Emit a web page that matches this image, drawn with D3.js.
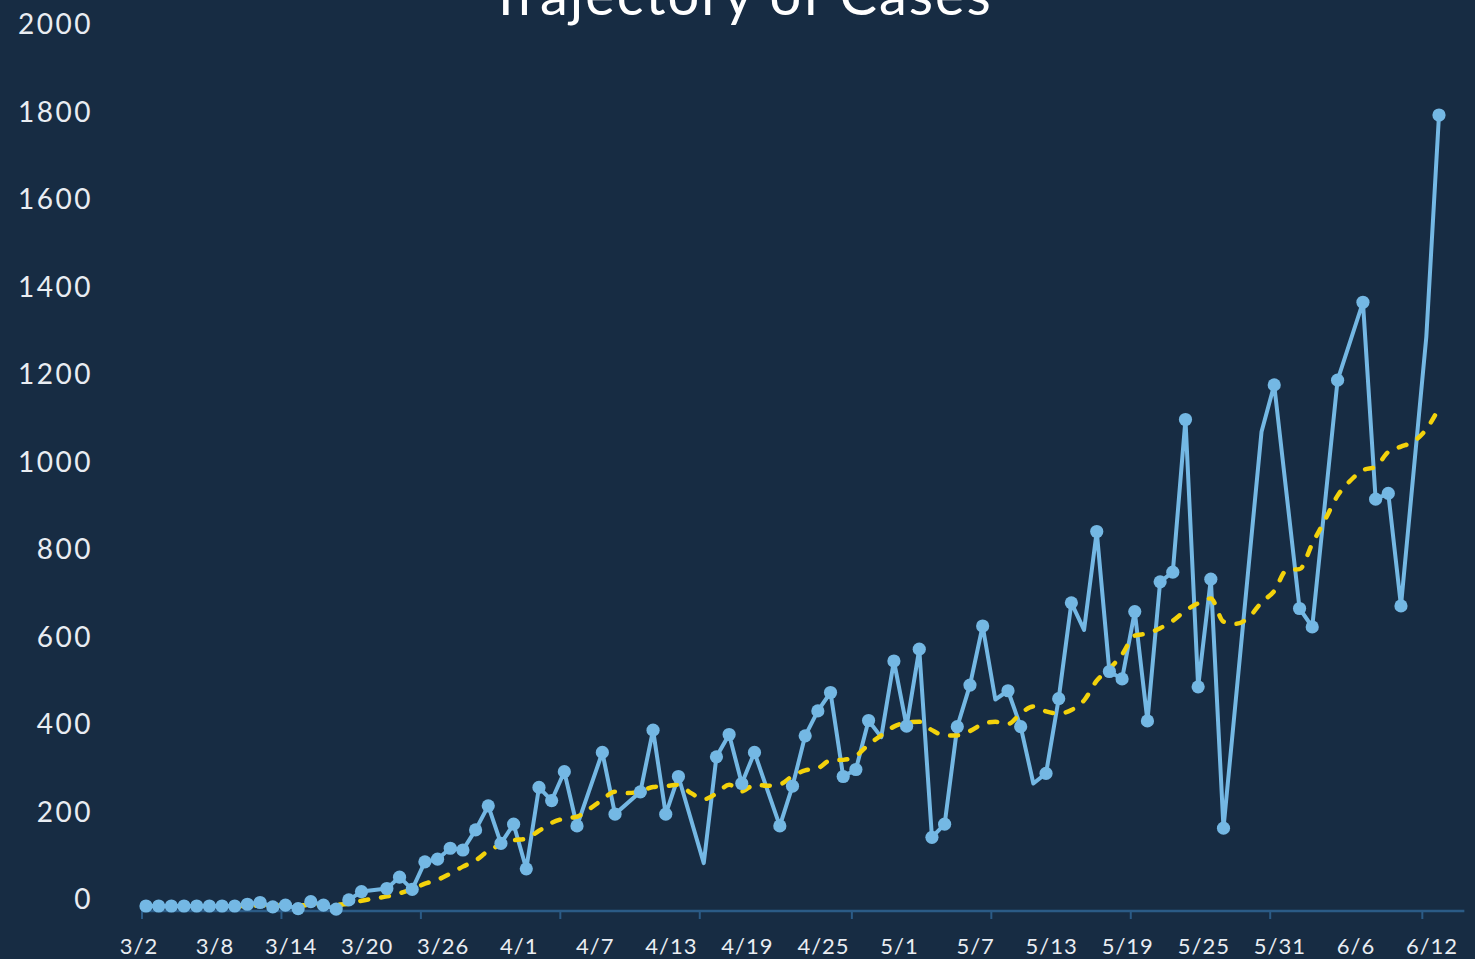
<!DOCTYPE html>
<html>
<head>
<meta charset="utf-8">
<script src="https://cdn.jsdelivr.net/npm/d3@7"></script>
<style>
  html, body { margin: 0; padding: 0; background: #172c43; overflow: hidden; }
  svg { display: block; }
</style>
</head>
<body>
<div id="chart"></div>
<script>
// daily new cases, starting 3/2/2020 (null = no report that day)
const startDate = "2020-03-02";
const newCases = [
  0, 0, 0, 0, 0, 0, 0, 0, 4, 8,
  -2, 2, -6, 10, 2, -7, 14, 33, null, 40,
  66, 38, 101, 107, 132, 128, 174, 229, 143, 187,
  85, 271, 241, 307, 183, null, 351, 210, null, 261,
  402, 210, 296, null, 98, 341, 392, 280, 351, null,
  183, 274, 389, 446, 488, 296, 312, 424, 386, 560,
  411, 587, 157, 187, 410, 505, 640, 472, 492, 410,
  280, 303, 474, 693, 631, 856, 536, 519, 673, 423,
  741, 763, 1112, 501, 747, 178, null, null, 1084, 1191,
  null, 680, 638, null, 1202, null, 1380, 930, 943, 686,
  null, 1301, 1808
];
// 7-day average (yellow dashed line)
const avg7 = [
  null, null, null, null, null, null, null, 0, 0, 1,
  1, 1, 2, 2, 2, 3, 5, 12, 17, 22,
  29, 38, 51, 60, 74, 90, 104, 126, 140, 150,
  154, 172, 190, 200, 204, 222, 243, 261, 258, 262,
  272, 274, 277, 258, 244, 257, 277, 262, 277, 275,
  278, 297, 310, 315, 333, 334, 343, 369, 390, 410,
  419, 421, 402, 390, 390, 400, 416, 421, 416, 440,
  456, 445, 440, 448, 470, 515, 542, 575, 618, 623,
  635, 652, 675, 692, 703, 650, 645, 660, 694, 720,
  768, 770, 828, 882, 938, 972, 996, 1004, 1038, 1050,
  1062, 1090, 1138
];
// days drawn without a marker in the original
const unmarkedDays = ["4/15", "4/29", "5/8", "5/11", "5/15", "5/29", "6/11"];

const xLabels = ["3/2", "3/8", "3/14", "3/20", "3/26", "4/1", "4/7", "4/13", "4/19",
  "4/25", "5/1", "5/7", "5/13", "5/19", "5/25", "5/31", "6/6", "6/12"];
const xTickMarks = ["3/2", "3/13", "3/24", "4/4", "4/15", "4/27", "5/8", "5/19", "5/30", "6/11"];
const yTicks = [0, 200, 400, 600, 800, 1000, 1200, 1400, 1600, 1800, 2000];
const title = "Trajectory of Cases";

const width = 1475, height = 959;
const parseMD = d => d3.timeParse("%Y/%m/%d")("2020/" + d);
const fmt = d3.timeFormat("%-m/%-d");

const start = d3.timeParse("%Y-%m-%d")(startDate);
const data = newCases.map((v, i) => ({
  date: d3.timeDay.offset(start, i),
  cases: v,
  avg: avg7[i]
}));

const x = d3.scaleTime()
  .domain([start, parseMD("6/12")])
  .range([146, 1439]);

const y = d3.scaleLinear()
  .domain([0, 2000])
  .range([906, 31]);

const svg = d3.select("#chart").append("svg")
  .attr("width", width)
  .attr("height", height);

svg.append("rect")
  .attr("width", width)
  .attr("height", height)
  .attr("fill", "#172c43");

// Title (top is cut off in the original)
svg.append("text")
  .attr("x", 741)
  .attr("y", 15)
  .attr("text-anchor", "middle")
  .attr("fill", "#ffffff")
  .style("font-family", "Lato, sans-serif")
  .style("font-size", "56px")
  .style("letter-spacing", "2px")
  .text(title);

// Y axis labels
svg.append("g")
  .selectAll("text")
  .data(yTicks)
  .join("text")
  .attr("x", 93)
  .attr("y", d => y(d) - 7)
  .attr("dy", "0.36em")
  .attr("text-anchor", "end")
  .attr("fill", "#e9edf2")
  .style("font-family", "Lato, sans-serif")
  .style("font-size", "28px")
  .style("letter-spacing", "2.5px")
  .text(d => d);

// X axis line + tick marks
const axisY = 911;
const xAxis = svg.append("g");
xAxis.append("line")
  .attr("x1", x(start) - 5)
  .attr("x2", x(parseMD("6/14")))
  .attr("y1", axisY)
  .attr("y2", axisY)
  .attr("stroke", "#2b5b86")
  .attr("stroke-width", 2.5);

xAxis.selectAll(".tick")
  .data(xTickMarks.map(parseMD))
  .join("line")
  .attr("class", "tick")
  .attr("x1", d => x(d) - 4)
  .attr("x2", d => x(d) - 4)
  .attr("y1", axisY)
  .attr("y2", axisY + 8)
  .attr("stroke", "#2b5b86")
  .attr("stroke-width", 2);

xAxis.selectAll(".lbl")
  .data(xLabels.map(parseMD))
  .join("text")
  .attr("class", "lbl")
  .attr("x", d => x(d) - 7)
  .attr("y", 946)
  .attr("dy", "0.36em")
  .attr("text-anchor", "middle")
  .attr("fill", "#e9edf2")
  .style("font-family", "Lato, sans-serif")
  .style("font-size", "22px")
  .style("letter-spacing", "1px")
  .text(d => fmt(d));

// Daily cases line
const reported = data.filter(d => d.cases !== null);
svg.append("path")
  .datum(reported)
  .attr("fill", "none")
  .attr("stroke", "#74b8e4")
  .attr("stroke-width", 4)
  .attr("stroke-linejoin", "round")
  .attr("d", d3.line()
    .x(d => x(d.date))
    .y(d => y(d.cases)));

// 7-day average, dashed
svg.append("path")
  .datum(data.filter(d => d.avg !== null))
  .attr("fill", "none")
  .attr("stroke", "#f3d20b")
  .attr("stroke-width", 4.5)
  .attr("stroke-linecap", "round")
  .attr("stroke-dasharray", "8,13")
  .attr("d", d3.line()
    .curve(d3.curveMonotoneX)
    .x(d => x(d.date))
    .y(d => y(d.avg)));

// Markers
svg.append("g")
  .selectAll("circle")
  .data(reported.filter(d => !unmarkedDays.includes(fmt(d.date))))
  .join("circle")
  .attr("cx", d => x(d.date))
  .attr("cy", d => y(d.cases))
  .attr("r", 6.6)
  .attr("fill", "#74b8e4");
</script>
</body>
</html>
